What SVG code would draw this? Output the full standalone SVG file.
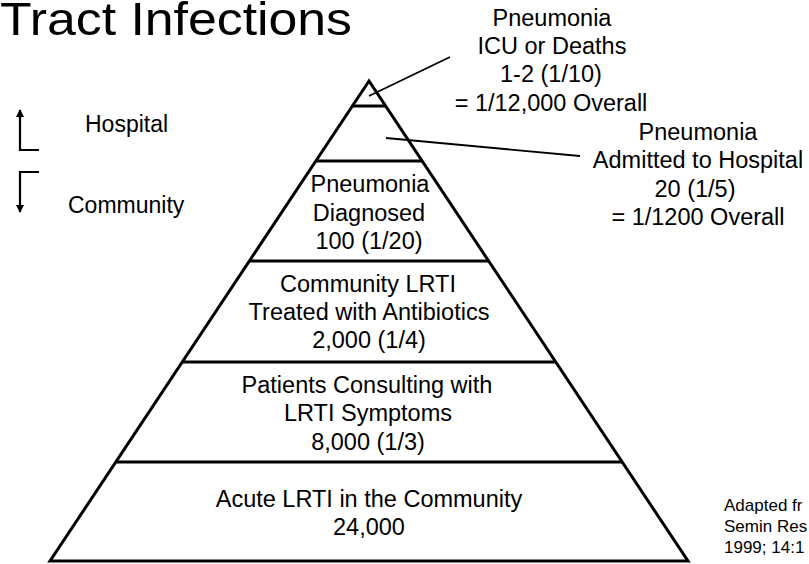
<svg xmlns="http://www.w3.org/2000/svg" width="809" height="564" viewBox="0 0 809 564">
  <style>
    text { font-family: "Liberation Sans", Arial, sans-serif; fill: #000; }
    .lbl { font-size: 23.5px; text-anchor: middle; }
    .side { font-size: 23px; }
    .title { font-size: 47px; }
    .ref { font-size: 17px; }
    .edge { fill: none; stroke: #000; stroke-width: 3; }
    .tier { stroke: #000; stroke-width: 3; }
    .lead { stroke: #000; stroke-width: 1.8; fill: none; }
    .arr { stroke: #000; stroke-width: 2.2; fill: none; }
  </style>
  <defs>
    <marker id="ah" viewBox="0 0 8 8" refX="7" refY="4" markerWidth="8" markerHeight="8" markerUnits="userSpaceOnUse" orient="auto">
      <path d="M0,0 L8,4 L0,8 Z" fill="#000"/>
    </marker>
  </defs>
  <rect width="809" height="564" fill="#fff"/>

  <g id="title">
    <text class="title" x="0" y="35" textLength="352" lengthAdjust="spacingAndGlyphs">Tract Infections</text>
  </g>

  <g id="pyramid">
    <polygon class="edge" points="369,81 50,561 688,561"/>
    <line class="tier" x1="352.4" y1="106" x2="385.6" y2="106"/>
    <line class="tier" x1="315.8" y1="161" x2="422.2" y2="161"/>
    <line class="tier" x1="249.4" y1="261" x2="488.6" y2="261"/>
    <line class="tier" x1="182.3" y1="362" x2="555.7" y2="362"/>
    <line class="tier" x1="115.8" y1="462" x2="622.2" y2="462"/>
  </g>

  <g id="tier-diagnosed">
    <text class="lbl" x="370" y="192">Pneumonia</text>
    <text class="lbl" x="369" y="221">Diagnosed</text>
    <text class="lbl" x="369" y="249">100 (1/20)</text>
  </g>
  <g id="tier-antibiotics">
    <text class="lbl" x="368" y="292">Community LRTI</text>
    <text class="lbl" x="369" y="320">Treated with Antibiotics</text>
    <text class="lbl" x="369" y="348">2,000 (1/4)</text>
  </g>
  <g id="tier-consulting">
    <text class="lbl" x="367" y="393">Patients Consulting with</text>
    <text class="lbl" x="368" y="421">LRTI Symptoms</text>
    <text class="lbl" x="368" y="450">8,000 (1/3)</text>
  </g>
  <g id="tier-acute">
    <text class="lbl" x="369" y="507">Acute LRTI in the Community</text>
    <text class="lbl" x="369" y="535">24,000</text>
  </g>

  <g id="label-icu">
    <text class="lbl" x="552" y="26">Pneumonia</text>
    <text class="lbl" x="552" y="54">ICU or Deaths</text>
    <text class="lbl" x="551" y="82">1-2 (1/10)</text>
    <text class="lbl" x="551" y="111">= 1/12,000 Overall</text>
  </g>
  <g id="label-admitted">
    <text class="lbl" x="698" y="140">Pneumonia</text>
    <text class="lbl" x="698" y="168">Admitted to Hospital</text>
    <text class="lbl" x="695" y="197">20 (1/5)</text>
    <text class="lbl" x="698" y="225">= 1/1200 Overall</text>
  </g>

  <g id="legend-hospital">
    <text class="side" x="85" y="132">Hospital</text>
  </g>
  <g id="legend-community">
    <text class="side" x="68" y="213">Community</text>
  </g>

  <g id="reference">
    <text class="ref" x="724" y="511">Adapted fr</text>
    <text class="ref" x="724" y="532">Semin Res</text>
    <text class="ref" x="724" y="553">1999; 14:1</text>
  </g>

  <g id="connectors">
    <line class="lead" x1="369" y1="96" x2="450" y2="57"/>
    <line class="lead" x1="386" y1="138" x2="580" y2="156"/>
    <path class="arr" d="M39,150 H20 V110" marker-end="url(#ah)"/>
    <path class="arr" d="M39,172 H20 V212" marker-end="url(#ah)"/>
  </g>
</svg>
